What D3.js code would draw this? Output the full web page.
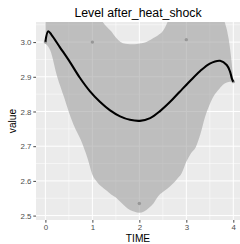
<!DOCTYPE html>
<html>
<head>
<meta charset="utf-8">
<script src="https://cdn.jsdelivr.net/npm/d3@7"></script>
<style>
  html, body { margin: 0; padding: 0; background: #ffffff; }
  svg { display: block; font-family: "Liberation Sans", Arial, sans-serif; }
</style>
</head>
<body>
<svg id="chart" width="240" height="244"></svg>
<script>
// ---- data ----
const chartTitle = "Level after_heat_shock";
const xTitle = "TIME";
const yTitle = "value";

const pointTime = [0, 1, 2, 3, 4];
const pointValue = [3.0, 3.0, 2.535, 3.007, 2.886];

const smoothTime  = [0, 0.06, 0.13, 0.31, 0.52, 0.73, 0.95, 1.16, 1.37, 1.59, 1.80, 2.01, 2.23, 2.44, 2.65, 2.86, 3.08, 3.29, 3.50, 3.72, 3.86, 3.93, 3.97, 4.0];
const smoothValue = [3.001, 3.031, 3.021, 2.985, 2.943, 2.898, 2.858, 2.828, 2.804, 2.786, 2.776, 2.773, 2.781, 2.801, 2.827, 2.857, 2.888, 2.916, 2.938, 2.946, 2.934, 2.915, 2.895, 2.886];

const bandTime  = [0, 0.1, 0.25, 0.4, 0.5, 0.6, 0.75, 0.9, 1.0, 1.1, 1.2, 1.3, 1.4, 1.5, 1.6, 1.7, 1.8, 1.9, 2.0, 2.1, 2.2, 2.3, 2.4, 2.5, 2.6, 2.7, 2.8, 2.9, 3.0, 3.1, 3.2, 3.3, 3.4, 3.5, 3.6, 3.7, 3.8, 3.9, 3.95, 4.0];
const bandLower = [2.995, 2.977, 2.901, 2.840, 2.798, 2.762, 2.719, 2.664, 2.618, 2.597, 2.583, 2.572, 2.561, 2.552, 2.539, 2.526, 2.516, 2.511, 2.508, 2.512, 2.522, 2.535, 2.556, 2.568, 2.578, 2.590, 2.605, 2.622, 2.655, 2.680, 2.697, 2.735, 2.785, 2.821, 2.848, 2.865, 2.879, 2.885, 2.886, 2.886];
const bandUpper = [3.15, 3.2, 3.25, 3.28, 3.29, 3.28, 3.25, 3.20, 3.15, 3.10, 3.063, 3.045, 3.031, 3.013, 3.000, 2.995, 2.994, 2.994, 2.996, 2.998, 3.004, 3.012, 3.020, 3.032, 3.058, 3.10, 3.15, 3.2, 3.25, 3.28, 3.29, 3.28, 3.25, 3.20, 3.15, 3.10, 3.065, 3.01, 2.96, 2.89];

const xTicks = [0, 1, 2, 3, 4];
const xMinor = [0.5, 1.5, 2.5, 3.5];
const yTicks = [2.5, 2.6, 2.7, 2.8, 2.9, 3.0];
const yMinor = [2.55, 2.65, 2.75, 2.85, 2.95, 3.05];

// ---- layout ----
const svg = d3.select("#chart");
const panel = { left: 36, top: 22, right: 242.7, bottom: 220 };

const x = d3.scaleLinear().domain([-0.2, 4.2]).range([panel.left, panel.right]);
const y = d3.scaleLinear().domain([2.4873, 3.0579]).range([panel.bottom, panel.top]);

svg.append("defs").append("clipPath").attr("id", "pclip")
  .append("rect").attr("x", panel.left).attr("y", panel.top)
  .attr("width", panel.right - panel.left).attr("height", panel.bottom - panel.top);

svg.append("rect").attr("x", panel.left).attr("y", panel.top)
  .attr("width", panel.right - panel.left).attr("height", panel.bottom - panel.top)
  .attr("fill", "#EBEBEB");

const grid = svg.append("g");
grid.selectAll(".ymin").data(yMinor).join("line")
  .attr("x1", panel.left).attr("x2", panel.right)
  .attr("y1", d => y(d)).attr("y2", d => y(d))
  .attr("stroke", "#ffffff").attr("stroke-width", 0.5);
grid.selectAll(".xmin").data(xMinor).join("line")
  .attr("y1", panel.top).attr("y2", panel.bottom)
  .attr("x1", d => x(d)).attr("x2", d => x(d))
  .attr("stroke", "#ffffff").attr("stroke-width", 0.5);
grid.selectAll(".ymaj").data(yTicks).join("line")
  .attr("x1", panel.left).attr("x2", panel.right)
  .attr("y1", d => y(d)).attr("y2", d => y(d))
  .attr("stroke", "#ffffff").attr("stroke-width", 1);
grid.selectAll(".xmaj").data(xTicks).join("line")
  .attr("y1", panel.top).attr("y2", panel.bottom)
  .attr("x1", d => x(d)).attr("x2", d => x(d))
  .attr("stroke", "#ffffff").attr("stroke-width", 1);

const plot = svg.append("g").attr("clip-path", "url(#pclip)");

const band = bandTime.map((t, i) => ({ t, lo: bandLower[i], hi: bandUpper[i] }));
plot.append("path").datum(band)
  .attr("d", d3.area().x(d => x(d.t)).y0(d => y(d.lo)).y1(d => y(d.hi)).curve(d3.curveMonotoneX))
  .attr("fill", "#999999").attr("fill-opacity", 0.55);

const pts = pointTime.map((t, i) => ({ t, v: pointValue[i] }));
plot.selectAll("circle").data(pts).join("circle")
  .attr("cx", d => x(d.t)).attr("cy", d => y(d.v)).attr("r", 1.7)
  .attr("fill", "#8c8c8c").attr("fill-opacity", 0.8);

const smooth = smoothTime.map((t, i) => ({ t, v: smoothValue[i] }));
plot.append("path").datum(smooth)
  .attr("d", d3.line().x(d => x(d.t)).y(d => y(d.v)).curve(d3.curveCatmullRom.alpha(0.5)))
  .attr("fill", "none").attr("stroke", "#000000").attr("stroke-width", 2.1)
  .attr("stroke-linejoin", "round").attr("stroke-linecap", "butt");

// axes
const xAxis = svg.append("g").attr("transform", `translate(0,${panel.bottom})`)
  .call(d3.axisBottom(x).tickValues(xTicks).tickFormat(d3.format("d")).tickSize(2.7).tickPadding(2));
const yAxis = svg.append("g").attr("transform", `translate(${panel.left},0)`)
  .call(d3.axisLeft(y).tickValues(yTicks).tickFormat(d3.format(".1f")).tickSize(2.7).tickPadding(1.8));
[xAxis, yAxis].forEach(a => {
  a.select(".domain").remove();
  a.selectAll(".tick line").attr("stroke", "#333333").attr("stroke-width", 0.9);
  a.selectAll(".tick text").attr("fill", "#4D4D4D").attr("font-size", 7.9)
    .attr("font-family", "Liberation Sans, Arial, sans-serif");
});

svg.append("text").attr("x", (panel.left + 240) / 2).attr("y", 16.5)
  .attr("text-anchor", "middle").attr("font-size", 12.3).attr("fill", "#000000")
  .text(chartTitle);
svg.append("text").attr("x", (panel.left + 240) / 2).attr("y", 242.3)
  .attr("text-anchor", "middle").attr("font-size", 10.2).attr("fill", "#000000")
  .text(xTitle);
svg.append("text").attr("transform", `translate(16.3,${(panel.top + panel.bottom) / 2}) rotate(-90)`)
  .attr("text-anchor", "middle").attr("font-size", 10.2).attr("fill", "#000000")
  .text(yTitle);
</script>
</body>
</html>
